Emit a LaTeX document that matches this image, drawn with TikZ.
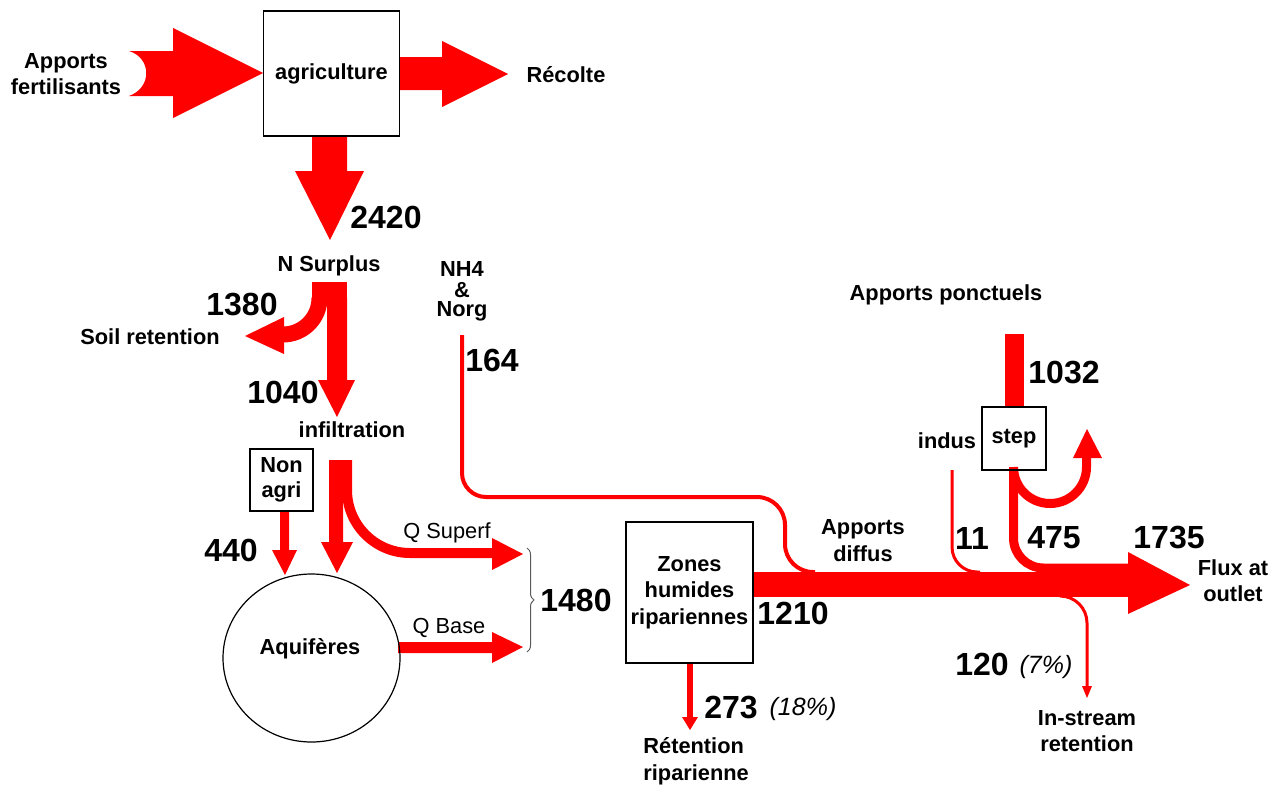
\documentclass[tikz,border=0pt]{standalone}
\usepackage{fontspec}
\setmainfont{Liberation Sans}
\usetikzlibrary{shapes.geometric,decorations.pathreplacing}
\definecolor{flowred}{RGB}{255,0,0}
\definecolor{bracegray}{RGB}{90,90,90}
\newcommand{\lblfont}{\fontsize{10.9}{13.3}\selectfont\bfseries}
\newcommand{\nonagrifont}{\fontsize{10.9}{12.5}\selectfont\bfseries}
\newcommand{\numfont}{\fontsize{16}{19}\selectfont\bfseries}
\newcommand{\regfont}{\fontsize{10.9}{13}\selectfont}
\newcommand{\pctfont}{\fontsize{12.5}{15}\selectfont\itshape}
\pgfdeclarelayer{background}
\pgfsetlayers{background,main}
\begin{document}
\begin{tikzpicture}[x=0.5pt,y=-0.5pt,
  flow/.style={fill=flowred},
  band/.style={draw=flowred, line cap=butt, line join=round},
  box/.style={draw=black, line width=0.9pt, inner sep=0pt, align=center, font=\lblfont},
  lbl/.style={inner sep=0pt, align=center, font=\lblfont},
  num/.style={inner sep=0pt, font=\numfont},
  reg/.style={inner sep=0pt, font=\regfont},
  pct/.style={inner sep=0pt, font=\pctfont}]
\useasboundingbox (0,0) rectangle (1279,787);

% ---------- boxes ----------
\node[box, minimum width=68pt, minimum height=62.5pt] (agri) at (331.5,73.5) {agriculture};
\node[box, font=\nonagrifont, minimum width=31.5pt, minimum height=31pt] (nonagri) at (281.5,480) {Non\\agri};
\node[box, minimum width=63.5pt, minimum height=70.5pt] (zones) at (689.5,592.5) {Zones\\humides\\ripariennes};
\node[box, minimum width=32pt, minimum height=31.5pt] (step) at (1014,438.5) {step};
\node[draw=black, ellipse, line width=0.6pt, minimum width=88.5pt, minimum height=84pt, inner sep=0pt] (aqui) at (311.5,658) {};

% ---------- labels ----------
\node[lbl] (apf) at (66,74) {Apports\\fertilisants};
\node[lbl] (recolte) at (566,75) {Récolte};
\node[num] (n2420) at (386,217) {2420};
\node[lbl] (nsurplus) at (329,266) {N Surplus};
\node[num] (n1380) at (242,305) {1380};
\node[lbl] (soilret) at (150,337) {Soil retention};
\node[num] (n1040) at (283,392) {1040};
\node[lbl] (infil) at (352,430) {infiltration};
\node[lbl] (nh4a) at (462,269) {NH4};
\node[lbl] (nh4b) at (462,290) {\&};
\node[lbl] (nh4c) at (462,311) {Norg};
\node[num] (n164) at (492,360) {164};
\node[num] (n440) at (231,550) {440};
\node[reg] (qsup) at (447,533) {Q Superf};
\node[reg] (qbase) at (449,628) {Q Base};
\node[lbl] (aquitxt) at (310,649) {Aquifères};
\node[num] (n1480) at (576,600) {1480};
\node[num] (n1210) at (793,613) {1210};
\node[num] (n273) at (731,707) {273};
\node[pct] (p18) at (803,709) {(18\%)};
\node[lbl, align=left, anchor=west] (retrip) at (643,761) {Rétention\\riparienne};
\node[lbl] (adiff) at (863,540.5) {Apports\\diffus};
\node[lbl] (aponct) at (946,295) {Apports ponctuels};
\node[num] (n1032) at (1064,373) {1032};
\node[lbl] (indus) at (947,441) {indus};
\node[num] (n11) at (972,538) {11};
\node[num] (n475) at (1054,538) {475};
\node[num] (n1735) at (1169,538) {1735};
\node[lbl] (flux) at (1233,580.5) {Flux at\\outlet};
\node[num] (n120) at (982,664) {120};
\node[pct] (p7) at (1046,667) {(7\%)};
\node[lbl] (instream) at (1087,731) {In-stream\\retention};

\begin{pgfonlayer}{background}
\fill[white] (0,0) rectangle (1279,787);
% fertiliser input
\fill[flow] (129,51) -- (173,51) -- (173,28) -- (263,73) -- (173,118) -- (173,96) -- (129,96)
  .. controls (152,88) and (152,58) .. (129,51) -- cycle;
% harvest
\fill[flow] (400,57) -- (442,57) -- (442,41) -- (508,74) -- (442,107) -- (442,90) -- (400,90) -- cycle;
% surplus 2420
\fill[flow] (312,136) -- (347,136) -- (347,171) -- (364,171) -- (330,240) -- (295,171) -- (312,171) -- cycle;
% N surplus split
\fill[flow] (312,282) rectangle (347,300);
\draw[band, line width=8pt] (319.5,298) arc[start angle=0, end angle=90, radius=36.5] -- (282,334.5);
\fill[flow] (284,317) -- (245,336) -- (284,354) -- cycle;
\fill[flow] (327,298) -- (347,298) -- (347,380) -- (355,380) -- (337,417) -- (318,380) -- (327,380) -- cycle;
% infiltration split
\fill[flow] (329,460) -- (343,460) -- (343,542) -- (353,542) -- (337,573) -- (321,542) -- (329,542) -- cycle;
\draw[band, line width=5pt] (347,460) -- (347,490) arc[start angle=180, end angle=90, radius=63] -- (493,553);
\fill[flow] (492,538) -- (523,554) -- (492,570) -- cycle;
% non agri
\fill[flow] (280,511) -- (289,511) -- (289,550) -- (297,550) -- (285,575) -- (272,550) -- (280,550) -- cycle;
% Q base
\fill[flow] (398,642) -- (492,642) -- (492,632) -- (523,647) -- (492,663) -- (492,653) -- (398,653) -- cycle;
% NH4 line
\draw[band, line width=2pt] (462,335) -- (462,473) arc[start angle=180, end angle=90, radius=24]
  -- (757,497) arc[start angle=-90, end angle=0, radius=28] -- (785,544)
  arc[start angle=180, end angle=90, radius=28] -- (815,572);
% main stream
\fill[flow] (753,572) rectangle (1130,597);
\fill[flow] (1128,552) -- (1190,585) -- (1128,614) -- cycle;
% retention riparienne
\fill[flow] (687,663) rectangle (693,718);
\fill[flow] (682,717) -- (690,730) -- (698,717) -- cycle;
% indus
\draw[band, line width=1.5pt] (952,470) -- (952,547) arc[start angle=180, end angle=90, radius=25] -- (980,572);
% point sources
\fill[flow] (1005,334) rectangle (1024,408);
\draw[band, line width=4.5pt] (1013.5,470) -- (1013.5,538) arc[start angle=180, end angle=90, radius=30] -- (1129,568);
\draw[band, line width=4.5pt] (1013.5,467) arc[start angle=180, end angle=0, radius=36.5] -- (1086.5,457);
\fill[flow] (1073,458) -- (1087,429) -- (1102,458) -- cycle;
% in-stream retention
\draw[band, line width=1.5pt] (1060,596) arc[start angle=-90, end angle=0, radius=27] -- (1087,688);
\fill[flow] (1082,686) -- (1087,698) -- (1092,686) -- cycle;
% brace
\draw[bracegray, line width=0.5pt, decorate, decoration={brace, amplitude=3.5pt}] (527,548) -- (527,652);
\end{pgfonlayer}
\end{tikzpicture}
\end{document}
